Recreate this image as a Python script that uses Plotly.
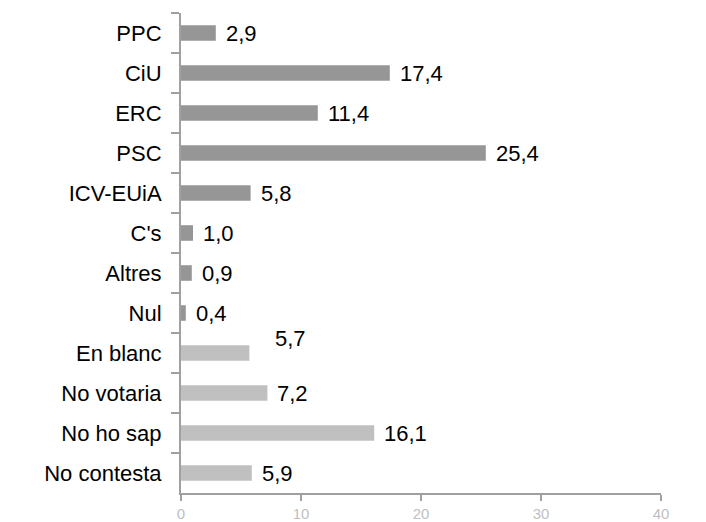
import plotly.graph_objects as go

categories = ["PPC", "CiU", "ERC", "PSC", "ICV-EUiA", "C's", "Altres", "Nul",
              "En blanc", "No votaria", "No ho sap", "No contesta"]
values = [2.9, 17.4, 11.4, 25.4, 5.8, 1.0, 0.9, 0.4, 5.7, 7.2, 16.1, 5.9]
groups = ["party"] * 8 + ["other"] * 4
x_ticks = [0, 10, 20, 30, 40]

color_map = {"party": "#969696", "other": "#c0c0c0"}
colors = [color_map[g] for g in groups]

FONT = "Liberation Sans, Arial, sans-serif"

def fmt(v):
    return f"{v:.1f}".replace(".", ",")

fig = go.Figure()
fig.add_trace(go.Bar(
    x=values, y=categories, orientation="h",
    marker=dict(color=colors, line=dict(width=0)),
    hoverinfo="skip",
))

annotations = []
for cat, v in zip(categories, values):
    xs, ys = 8, 0
    if cat == "En blanc":
        xs, ys = 24, 15
    annotations.append(dict(
        x=v, y=cat, xref="x", yref="y", text=fmt(v), showarrow=False,
        xanchor="left", yanchor="middle", xshift=xs, yshift=ys,
        font=dict(family=FONT, size=22, color="#000000"),
    ))

fig.update_layout(
    width=706, height=522,
    margin=dict(l=181, r=45, t=13, b=29),
    paper_bgcolor="white", plot_bgcolor="white",
    bargap=0.61,
    showlegend=False,
    annotations=annotations,
    font=dict(family=FONT, size=22, color="#000000"),
)
fig.update_xaxes(
    range=[0, 40], tickvals=x_ticks, ticktext=[str(t) for t in x_ticks],
    showgrid=False, zeroline=False, automargin=False,
    showline=True, linecolor="#a0a0a0", linewidth=2,
    ticks="outside", ticklen=6, tickcolor="#a0a0a0", tickwidth=2,
    ticklabelstandoff=0,
    tickfont=dict(family=FONT, size=15, color="#c0c0c0"),
)
fig.update_yaxes(
    categoryorder="array", categoryarray=categories, autorange="reversed",
    showgrid=False, zeroline=False, automargin=False,
    showline=True, linecolor="#a0a0a0", linewidth=2,
    ticks="outside", ticklen=8, tickcolor="#a0a0a0", tickwidth=2,
    tickson="boundaries", ticklabelstandoff=13,
    tickfont=dict(family=FONT, size=22, color="#000000"),
)

fig.write_html(
    "out.html",
    config={"displayModeBar": False, "staticPlot": True},
    post_script="document.body.style.margin='0';document.body.style.overflow='hidden';",
)
